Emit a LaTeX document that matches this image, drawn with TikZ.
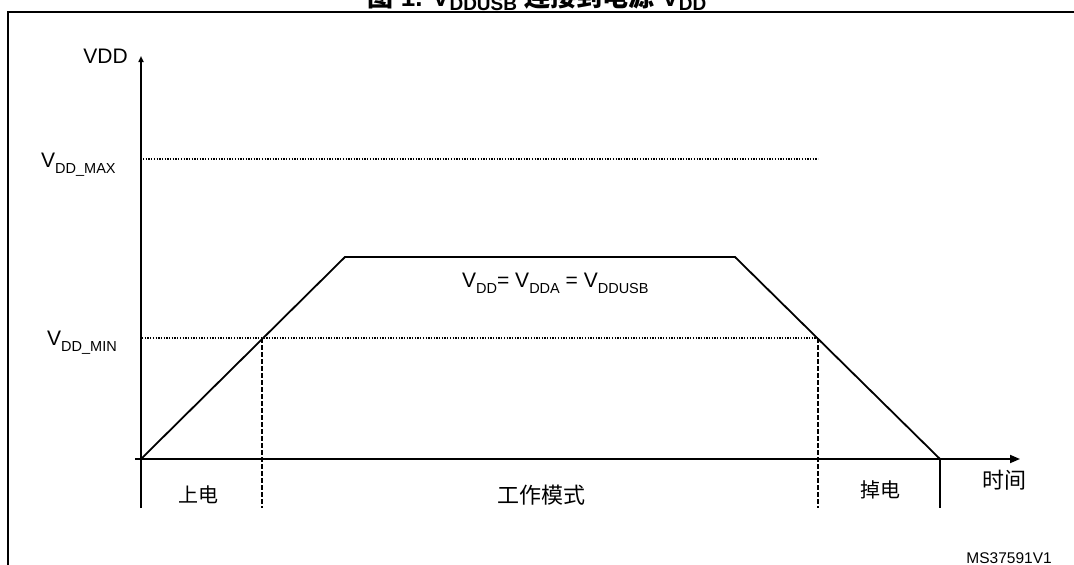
\documentclass[tikz,border=0pt]{standalone}
\usepackage{fontspec}
\setmainfont{Liberation Sans}
\newfontfamily\cjk{Noto Sans CJK SC}
\usetikzlibrary{arrows.meta}
\newcommand{\vsb}[1]{\raisebox{-0.3em}{\fontsize{14.5}{16}\selectfont #1}}
\newcommand{\tsb}[1]{\raisebox{-0.18em}{\fontsize{19}{20}\selectfont\bfseries #1}}
\begin{document}
\begin{tikzpicture}[x=1pt,y=-1pt,
  frame/.style={line width=2pt},
  axis/.style={line width=1.8pt},
  curve/.style={line width=1.8pt},
  dots/.style={line width=1.3pt, dash pattern=on 1.3pt off 1.4pt},
  dashes/.style={line width=1.5pt, dash pattern=on 4.5pt off 2.5pt},
  lbl/.style={inner sep=0pt, font=\fontsize{21}{24}\selectfont},
  cjklbl/.style={inner sep=0pt, font=\cjk\fontsize{20}{24}\selectfont},
]
\useasboundingbox (0,0) rectangle (1074,565);

% title (cut off at top)
\node[inner sep=0pt, anchor=base, font=\fontsize{26}{28}\selectfont\bfseries] (title) at (537,6)
  {{\cjk\bfseries 图} 1. V\tsb{DDUSB} {\cjk\bfseries 连接到电源} V\tsb{DD}};

% frame
\coordinate (f1) at (8,600);
\coordinate (f2) at (8,12);
\coordinate (f3) at (1100,12);
\draw[frame] (f1) -- (f2) -- (f3);

% key points
\coordinate (O) at (141,459);
\coordinate (ytop) at (141,56);
\coordinate (ybot) at (141,508);
\coordinate (xs) at (135,459);
\coordinate (xe) at (1020,459);
\coordinate (A) at (345,257);
\coordinate (B) at (735,257);
\coordinate (E) at (940,459);
\coordinate (Ebot) at (940,508);
\coordinate (P1) at (262,338);
\coordinate (P2) at (818,338);
\coordinate (P1b) at (262,508);
\coordinate (P2b) at (818,508);
\coordinate (maxL) at (143,159);
\coordinate (maxR) at (818,159);
\coordinate (minL) at (142,338);

% axes
\draw[axis,-{Triangle[length=6pt,width=5pt]}] (ybot) -- (ytop);
\draw[axis,-{Triangle[length=10pt,width=8pt]}] (xs) -- (xe);
\draw[axis] (E) -- (Ebot);

% threshold lines
\draw[dots] (maxL) -- (maxR);
\draw[dots] (minL) -- (P2);
\draw[dashes] (P1) -- (P1b);
\draw[dashes] (P2) -- (P2b);

% supply curve
\draw[curve, line join=miter] (O) -- (A) -- (B) -- (E);

% labels
\node[lbl, anchor=base east] (vdd) at (128,63) {VDD};
\node[lbl, anchor=base west] (vmax) at (41,167) {V\vsb{DD\_MAX}};
\node[lbl, anchor=base west] (vmin) at (47,345) {V\vsb{DD\_MIN}};
\node[lbl, anchor=base west] (eq) at (462,287) {V\vsb{DD}= V\vsb{DDA} = V\vsb{DDUSB}};
\node[cjklbl, anchor=base] (pu) at (198,502) {上电};
\node[cjklbl, anchor=base, font=\cjk\fontsize{22}{24}\selectfont] (run) at (541,503) {工作模式};
\node[cjklbl, anchor=base] (pd) at (880,497) {掉电};
\node[cjklbl, anchor=base, font=\cjk\fontsize{22}{24}\selectfont] (time) at (1004,488) {时间};
\node[inner sep=0pt, anchor=base east, font=\fontsize{15.5}{17}\selectfont] (id) at (1052,563) {MS37591V1};
\end{tikzpicture}
\end{document}
